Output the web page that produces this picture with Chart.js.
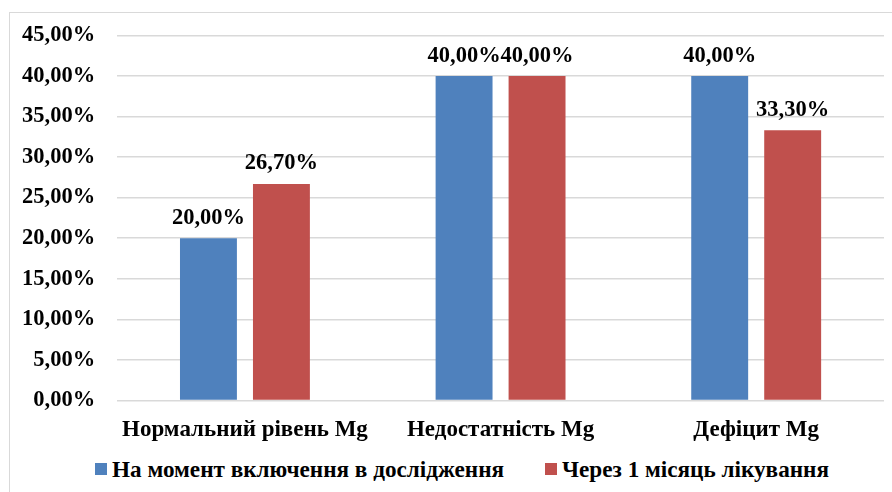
<!DOCTYPE html>
<html>
<head>
<meta charset="utf-8">
<script src="https://cdn.jsdelivr.net/npm/chart.js@4"></script>
<style>
	html, body { margin: 0; padding: 0; background: #fff; overflow: hidden; }
	.frame { position: absolute; left: 9px; top: 12px; width: 920px; height: 520px; border: 1px solid #d9d9d9; }
	.wrap { position: absolute; left: 0; top: 0; width: 892px; height: 452px; }
	.legend {
		position: absolute; left: 0; top: 455px; width: 892px; height: 28px;
		margin: 0; padding: 0 0 0 95px; box-sizing: border-box; list-style: none;
		display: flex; align-items: center; gap: 41px;
		font: bold 23.2px 'Liberation Serif', 'Times New Roman', serif; line-height: 28px; color: #000;
	}
	.legend li { display: flex; align-items: center; white-space: nowrap; }
	.legend__box { display: inline-block; width: 12px; height: 12px; margin-right: 5px; }
</style>
</head>
<body>
<div class="frame"></div>
<div class="wrap"><canvas id="chart" width="892" height="452"></canvas></div>
<ul class="legend" id="legend"></ul>
<script>
const categories = ['Нормальний рівень Mg', 'Недостатність Mg', 'Дефіцит Mg'];
const seriesNames = ['На момент включення в дослідження', 'Через 1 місяць лікування'];
const atStart = [20.0, 40.0, 40.0];
const afterMonth = [26.7, 40.0, 33.3];
const yMax = 45;
const yStep = 5;

const font = 'Liberation Serif, Times New Roman, serif';
const pct = (v) => Number(v).toFixed(2).replace('.', ',') + '%';

const barLabels = {
	id: 'barLabels',
	afterDatasetsDraw(chart) {
		const ctx = chart.ctx;
		ctx.save();
		ctx.font = `bold 22.5px ${font}`;
		ctx.fillStyle = '#000';
		ctx.textAlign = 'center';
		ctx.textBaseline = 'bottom';
		chart.data.datasets.forEach((ds, i) => {
			chart.getDatasetMeta(i).data.forEach((bar, j) => {
				ctx.fillText(pct(ds.data[j]), bar.x, bar.y - 9);
			});
		});
		ctx.restore();
	},
};

// legend as html, built from the chart's own legend items
const htmlLegend = {
	id: 'htmlLegend',
	afterUpdate(chart) {
		const $ul = document.getElementById('legend');
		$ul.innerHTML = '';
		const items = chart.options.plugins.legend.labels.generateLabels(chart);
		items.forEach((item) => {
			const $li = document.createElement('li');
			const $box = document.createElement('span');
			$box.className = 'legend__box';
			$box.style.background = item.fillStyle;
			$li.appendChild($box);
			$li.appendChild(document.createTextNode(item.text));
			$ul.appendChild($li);
		});
	},
};

const data = {
	labels: categories,
	datasets: [
		{
			label: seriesNames[0],
			data: atStart,
			backgroundColor: '#4F81BD',
		},
		{
			label: seriesNames[1],
			data: afterMonth,
			backgroundColor: '#C0504D',
		},
	],
};

const config = {
	type: 'bar',
	data,
	plugins: [barLabels, htmlLegend],
	options: {
		responsive: false,
		animation: false,
		categoryPercentage: 0.571,
		barPercentage: 0.78,
		layout: {
			padding: { top: 22, right: 8, left: 0, bottom: 0 },
		},
		plugins: {
			tooltip: { enabled: false },
			legend: { display: false },
		},
		scales: {
			y: {
				min: 0,
				max: yMax,
				border: { display: false },
				grid: { color: '#d9d9d9', lineWidth: 1.5, drawTicks: false },
				ticks: {
					stepSize: yStep,
					padding: 22,
					color: '#000',
					font: { family: font, size: 22.5, weight: 'bold' },
					callback: (v) => pct(v),
				},
			},
			x: {
				border: { display: false },
				grid: { display: false },
				ticks: {
					padding: 8,
					maxRotation: 0,
					minRotation: 0,
					autoSkip: false,
					color: '#000',
					font: { family: font, size: 23, weight: 'bold' },
				},
			},
		},
	},
};

new Chart(document.getElementById('chart'), config);
</script>
</body>
</html>
